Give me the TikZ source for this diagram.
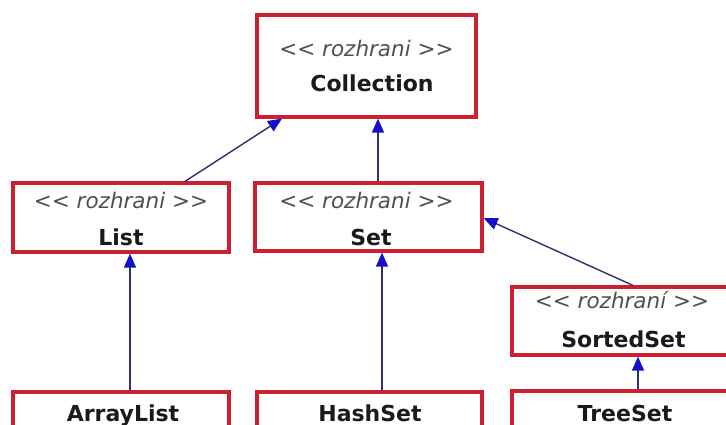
\documentclass[tikz,border=0pt]{standalone}
\usepackage{fontspec}
\usetikzlibrary{arrows.meta}
\newfontfamily\umlfont{DejaVu Sans}
\definecolor{boxred}{RGB}{204,32,48}
\definecolor{linkblue}{RGB}{48,48,110}
\definecolor{tipblue}{RGB}{16,16,200}
\definecolor{stereogray}{RGB}{80,80,80}
\definecolor{nameblack}{RGB}{26,26,26}
\tikzset{
  umlbox/.style={draw=boxred, line width=3.2pt, fill=white, rectangle, inner sep=0pt},
  stereo/.style={anchor=base, inner sep=0pt, text=stereogray, font=\umlfont\itshape\fontsize{21.5}{25}\selectfont},
  cname/.style={anchor=base, inner sep=0pt, text=nameblack, font=\umlfont\bfseries\fontsize{22}{26}\selectfont},
  inh/.style={draw=linkblue, line width=1.4pt,
    -{Triangle[length=14pt,width=12pt,color=tipblue]}}
}
\begin{document}
\begin{tikzpicture}[x=1pt,y=-1pt]
\useasboundingbox (0,0) rectangle (726,425);
\clip (0,0) rectangle (726,425);
\fill[white] (0,0) rectangle (726,425);

% interface boxes
\node[umlbox, minimum width=219pt, minimum height=102pt] (coll) at (366.5,66) {};
\node[umlbox, minimum width=216pt, minimum height=69pt] (list) at (121,217.5) {};
\node[umlbox, minimum width=227pt, minimum height=68pt] (set) at (368.5,217) {};
\node[umlbox, minimum width=223pt, minimum height=68pt] (sorted) at (623.5,321) {};

% implementing classes (run past the lower edge)
\node[umlbox, minimum width=216pt, minimum height=70pt] (alist) at (121,427) {};
\node[umlbox, minimum width=225pt, minimum height=70pt] (hset) at (369.5,427) {};
\node[umlbox, minimum width=223pt, minimum height=70pt] (tset) at (623.5,426) {};

% labels
\node[stereo] (collst) at (366.5,57) {<< rozhrani >>};
\node[cname] (collnm) at (372,92) {Collection};
\node[stereo] (listst) at (121,208) {<< rozhrani >>};
\node[cname] (listnm) at (121,245) {List};
\node[stereo] (setst) at (366.5,208) {<< rozhrani >>};
\node[cname] (setnm) at (371,245) {Set};
\node[stereo] (sortedst) at (622,308) {<< rozhraní >>};
\node[cname] (sortednm) at (623.5,347) {SortedSet};
\node[cname] (alistnm) at (123,421) {ArrayList};
\node[cname] (hsetnm) at (370,421) {HashSet};
\node[cname] (tsetnm) at (625,421) {TreeSet};

% generalisation links
\draw[inh] ([xshift=64pt]list.north) -- ([xshift=-84.5pt]coll.south);
\draw[inh] ([xshift=9.5pt]set.north) -- ([xshift=11.5pt]coll.south);
\draw[inh] ([xshift=9.5pt]sorted.north) -- ([yshift=-1pt]set.east);
\draw[inh] ([xshift=9pt]alist.north) -- ([xshift=9pt]list.south);
\draw[inh] ([xshift=12.5pt]hset.north) -- ([xshift=13.5pt]set.south);
\draw[inh] ([xshift=14.5pt]tset.north) -- ([xshift=14.5pt]sorted.south);
\end{tikzpicture}
\end{document}
